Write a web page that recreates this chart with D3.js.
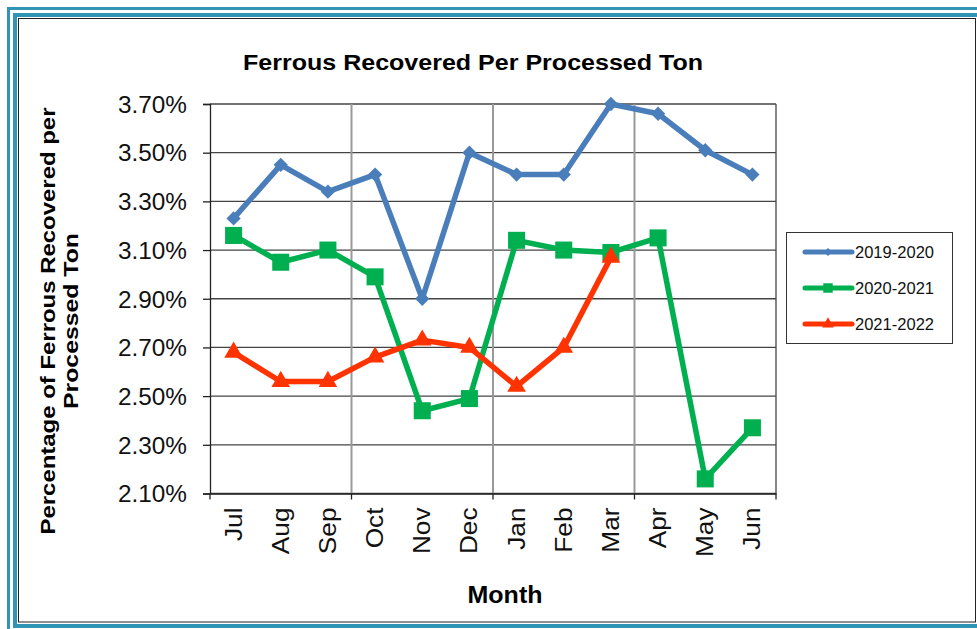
<!DOCTYPE html>
<html>
<head>
<meta charset="utf-8">
<script src="https://cdn.jsdelivr.net/npm/d3@7"></script>
<style>
  body { margin: 0; background: #fff; }
  svg { display: block; font-family: Arial, "Liberation Sans", sans-serif; }
</style>
</head>
<body>
<div id="chart"></div>
<script>
var months = ["Jul", "Aug", "Sep", "Oct", "Nov", "Dec", "Jan", "Feb", "Mar", "Apr", "May", "Jun"];
var fy2019 = [3.23, 3.45, 3.34, 3.41, 2.90, 3.50, 3.41, 3.41, 3.70, 3.66, 3.51, 3.41];
var fy2020 = [3.16, 3.05, 3.10, 2.99, 2.44, 2.49, 3.14, 3.10, 3.09, 3.15, 2.16, 2.37];
var fy2021 = [2.68, 2.56, 2.56, 2.66, 2.73, 2.70, 2.54, 2.70, 3.07];
var yTicks = [2.10, 2.30, 2.50, 2.70, 2.90, 3.10, 3.30, 3.50, 3.70];
var seriesNames = ["2019-2020", "2020-2021", "2021-2022"];

var W = 977, H = 629;
var svg = d3.select("#chart").append("svg").attr("width", W).attr("height", H);

// frame
var teal = "#2e96b4";
svg.append("rect").attr("x", 8.5).attr("y", 8.5).attr("width", W + 20).attr("height", 640)
  .attr("fill", "none").attr("stroke", teal).attr("stroke-width", 3);
svg.append("rect").attr("x", 15).attr("y", 15).attr("width", W - 15 + 20).attr("height", 611)
  .attr("fill", "none").attr("stroke", teal).attr("stroke-width", 4);
svg.append("rect").attr("x", 18.5).attr("y", 18.5).attr("width", 957).attr("height", 603.5)
  .attr("fill", "#fff").attr("stroke", "#222").attr("stroke-width", 1);

var x = d3.scaleBand().domain(months).range([210, 776]).padding(0);
var y = d3.scaleLinear().domain([2.10, 3.70]).range([493.5, 104]);
var cx = function(i) { return x(months[i]) + x.bandwidth() / 2; };

var chart = svg.append("g");

// horizontal grid
chart.selectAll(".hgrid").data(yTicks).enter().append("line")
  .attr("x1", 210).attr("x2", 776)
  .attr("y1", function(d) { return y(d); }).attr("y2", function(d) { return y(d); })
  .attr("stroke", "#444").attr("stroke-width", 1.3);

// vertical grid every 3 months
var vIdx = [3, 6, 9];
chart.selectAll(".vgrid").data(vIdx).enter().append("line")
  .attr("x1", function(i) { return x(months[i]); }).attr("x2", function(i) { return x(months[i]); })
  .attr("y1", 104).attr("y2", 493.5)
  .attr("stroke", "#999").attr("stroke-width", 2);
chart.append("line").attr("x1", 776).attr("x2", 776).attr("y1", 104).attr("y2", 493.5)
  .attr("stroke", "#444").attr("stroke-width", 1.3);

// y axis
var yAxis = d3.axisLeft(y).tickValues(yTicks).tickSize(7).tickPadding(16)
  .tickFormat(function(d) { return d.toFixed(2) + "%"; });
var gy = svg.append("g").attr("transform", "translate(210,0)").call(yAxis);
gy.select(".domain").attr("stroke", "#222").attr("stroke-width", 1.3);
gy.selectAll(".tick line").attr("stroke", "#222").attr("stroke-width", 1.3);
gy.selectAll("text").attr("font-size", 23).attr("fill", "#111")
  .attr("font-family", "Arial, 'Liberation Sans', sans-serif").attr("dy", "0.36em")
  .attr("textLength", 69).attr("lengthAdjust", "spacingAndGlyphs");

// x axis
var xAxis = d3.axisBottom(x).tickSize(0).tickPadding(0);
var gx = svg.append("g").attr("transform", "translate(0,493.5)").call(xAxis);
gx.select(".domain").attr("stroke", "#222").attr("stroke-width", 1.3);
gx.selectAll("text")
  .attr("font-size", 23).attr("fill", "#111")
  .attr("font-family", "Arial, 'Liberation Sans', sans-serif")
  .style("text-anchor", "end")
  .attr("y", 0).attr("dy", "0.35em").attr("x", -14)
  .attr("transform", "rotate(-90)")
  .each(function() {
    var t = d3.select(this);
    t.attr("textLength", this.getComputedTextLength() * 1.14).attr("lengthAdjust", "spacingAndGlyphs");
  });
var xTickPos = [0, 3, 6, 9].map(function(i) { return x(months[i]); }).concat([776]);
gx.selectAll(".mtick").data(xTickPos).enter().append("line")
  .attr("x1", function(d) { return d; }).attr("x2", function(d) { return d; })
  .attr("y1", 0).attr("y2", 6).attr("stroke", "#222").attr("stroke-width", 1.3);

// series
var colors = ["#4a7ebb", "#00b050", "#ff3300"];
var allSeries = [fy2019, fy2020, fy2021];
var line = d3.line().x(function(d, i) { return cx(i); }).y(function(d) { return y(d); });

var symbols = [
  d3.symbol().type(d3.symbolDiamond2).size(130),
  d3.symbol().type(d3.symbolSquare).size(290),
  d3.symbol().type(d3.symbolTriangle).size(150)
];
var legendSymbols = [
  d3.symbol().type(d3.symbolDiamond2).size(40),
  d3.symbol().type(d3.symbolSquare).size(90),
  d3.symbol().type(d3.symbolTriangle).size(60)
];

allSeries.forEach(function(vals, s) {
  var g = chart.append("g");
  g.append("path").datum(vals).attr("d", line)
    .attr("fill", "none").attr("stroke", colors[s]).attr("stroke-width", 5.5)
    .attr("stroke-linejoin", "round");
  g.selectAll(".pt").data(vals).enter().append("path")
    .attr("d", symbols[s])
    .attr("transform", function(d, i) { return "translate(" + cx(i) + "," + y(d) + ")"; })
    .attr("fill", colors[s]);
});

// title
svg.append("text").attr("x", 473).attr("y", 70).attr("text-anchor", "middle")
  .attr("font-size", 22).attr("font-weight", "bold").attr("fill", "#000")
  .attr("textLength", 460).attr("lengthAdjust", "spacingAndGlyphs")
  .text("Ferrous Recovered Per Processed Ton");

// y title
var yt = svg.append("text").attr("transform", "translate(55,321) rotate(-90)")
  .attr("text-anchor", "middle").attr("font-size", 20).attr("font-weight", "bold").attr("fill", "#000");
yt.append("tspan").attr("x", 0).attr("dy", 0)
  .attr("textLength", 427).attr("lengthAdjust", "spacingAndGlyphs")
  .text("Percentage of Ferrous Recovered per");
yt.append("tspan").attr("x", 0).attr("dy", 23)
  .attr("textLength", 176).attr("lengthAdjust", "spacingAndGlyphs")
  .text("Processed Ton");

// x title
svg.append("text").attr("x", 505).attr("y", 603).attr("text-anchor", "middle")
  .attr("font-size", 24).attr("font-weight", "bold").attr("fill", "#000")
  .attr("textLength", 75).attr("lengthAdjust", "spacingAndGlyphs").text("Month");

// legend
var lg = svg.append("g");
lg.append("rect").attr("x", 786.5).attr("y", 232.5).attr("width", 166).attr("height", 111)
  .attr("fill", "#fff").attr("stroke", "#333").attr("stroke-width", 1);
seriesNames.forEach(function(name, s) {
  var ly = 252 + s * 36;
  lg.append("line").attr("x1", 805).attr("x2", 852).attr("y1", ly).attr("y2", ly)
    .attr("stroke", colors[s]).attr("stroke-width", 5).attr("stroke-linecap", "round");
  lg.append("path").attr("d", legendSymbols[s]).attr("transform", "translate(828," + ly + ")")
    .attr("fill", colors[s]);
  lg.append("text").attr("x", 855).attr("y", ly).attr("dy", "0.35em")
    .attr("font-size", 16).attr("fill", "#111").attr("textLength", 79)
    .attr("lengthAdjust", "spacingAndGlyphs").text(name);
});
</script>
</body>
</html>
